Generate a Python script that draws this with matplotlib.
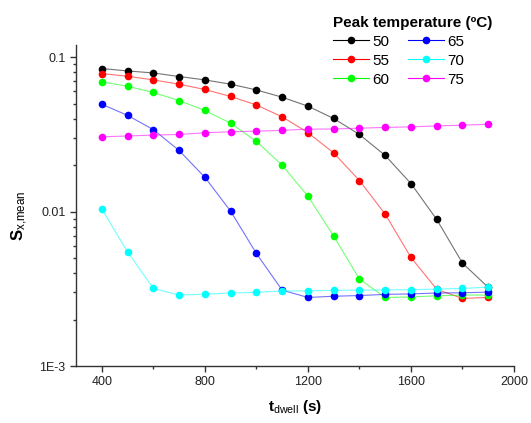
import matplotlib
matplotlib.use("Agg")
import matplotlib.pyplot as plt
from matplotlib.ticker import FixedLocator, MultipleLocator, LogLocator, NullFormatter

plt.rcParams['font.family'] = ['Liberation Sans', 'DejaVu Sans']
plt.rcParams['mathtext.fontset'] = 'custom'
plt.rcParams['mathtext.rm'] = 'Liberation Sans'
plt.rcParams['mathtext.bf'] = 'Liberation Sans:bold'
plt.rcParams['mathtext.it'] = 'Liberation Sans:italic'

t_dwell = [400, 500, 600, 700, 800, 900, 1000, 1100, 1200, 1300, 1400, 1500, 1600, 1700, 1800, 1900]

s_50 = [0.0845, 0.0815, 0.0791, 0.0750, 0.0713, 0.0669, 0.0614, 0.0551, 0.0482, 0.0401,
        0.0316, 0.0231, 0.0152, 0.00890, 0.00464, 0.00323]
s_55 = [0.0784, 0.0753, 0.0713, 0.0669, 0.0618, 0.0557, 0.0491, 0.0411, 0.0325, 0.0240,
        0.0159, 0.00963, 0.00505, 0.00314, 0.00274, 0.00278]
s_60 = [0.0692, 0.0649, 0.0591, 0.0524, 0.0452, 0.0374, 0.0285, 0.0200, 0.0126, 0.00694,
        0.00366, 0.00278, 0.00280, 0.00285, 0.00288, 0.00288]
s_65 = [0.0496, 0.0420, 0.0340, 0.0249, 0.0167, 0.01007, 0.00536, 0.00310, 0.00278, 0.00283,
        0.00286, 0.00291, 0.00293, 0.00297, 0.00298, 0.00301]
s_70 = [0.01038, 0.00549, 0.00318, 0.00288, 0.00292, 0.00297, 0.00300, 0.00306, 0.00307, 0.00309,
        0.00310, 0.00311, 0.00312, 0.00315, 0.00318, 0.00324]
s_75 = [0.0305, 0.0309, 0.0313, 0.0316, 0.0324, 0.0329, 0.0332, 0.0336, 0.0342, 0.0343,
        0.0347, 0.0351, 0.0354, 0.0359, 0.0363, 0.0368]

series_labels = ['50', '55', '60', '65', '70', '75']
series_values = [s_50, s_55, s_60, s_65, s_70, s_75]
series_colors = ['#000000', '#FF0000', '#00FF00', '#0000FF', '#00FFFF', '#FF00FF']

x_ticks = [400, 800, 1200, 1600, 2000]
y_ticks = [0.001, 0.01, 0.1]
y_ticklabels = ['1E-3', '0.01', '0.1']

fig = plt.figure(figsize=(5.31, 4.23), dpi=100)
ax = fig.add_axes([76/531, 57/423, (514-76)/531, (366-45)/423])

handles = []
for lab, vals, col in zip(series_labels, series_values, series_colors):
    ax.plot(t_dwell, vals, '-', color=col, lw=0.8, alpha=0.55)
    ax.plot(t_dwell, vals, 'o', color=col, ms=5.5, mec=col, mew=0)
    h, = ax.plot([], [], '-o', color=col, lw=0.8, ms=5.5, mew=0)
    handles.append(h)

ax.set_yscale('log')
ax.set_xlim(300, 2000)
ax.set_ylim(0.001, 0.12)
ax.xaxis.set_major_locator(FixedLocator(x_ticks))
ax.xaxis.set_minor_locator(MultipleLocator(200))
ax.yaxis.set_major_locator(FixedLocator(y_ticks))
ax.set_yticklabels(y_ticklabels)
ax.yaxis.set_minor_locator(LogLocator(base=10, subs=range(2, 10)))
ax.yaxis.set_minor_formatter(NullFormatter())

for s in ['top', 'right']:
    ax.spines[s].set_visible(False)
for s in ['left', 'bottom']:
    ax.spines[s].set_linewidth(1.0)
    ax.spines[s].set_color('#333333')

ax.tick_params(which='major', direction='out', length=4, width=1, color='#333333',
               labelsize=9, labelcolor='#222222')
ax.tick_params(which='minor', direction='out', length=2.5, width=1, color='#333333')

ax.set_xlabel(r'$\mathbf{t}_{\mathrm{dwell}}$ (s)', fontsize=11, fontweight='bold', labelpad=7)
ax.set_ylabel(r'S$_{\mathrm{x{,}mean}}$', fontsize=12, fontweight='bold')
ax.yaxis.set_label_coords(-0.105, 0.467)

leg = fig.legend(handles, series_labels, ncol=2, loc='upper left',
                 bbox_to_anchor=(325/531, 1 - 8/423), frameon=False,
                 title='Peak temperature (ºC)',
                 title_fontproperties={'weight': 'bold', 'size': 11},
                 fontsize=11, handlelength=2.35, handletextpad=0.26,
                 columnspacing=1.2, labelspacing=0.33, borderpad=0,
                 alignment='left')

fig.savefig('out.png', dpi=100)
